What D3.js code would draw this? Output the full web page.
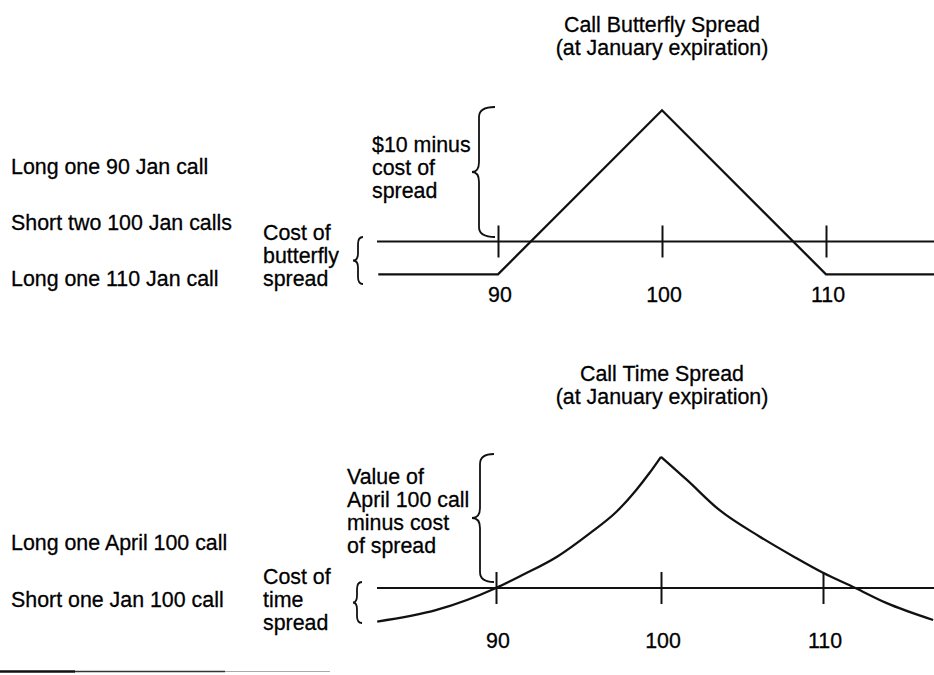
<!DOCTYPE html>
<html>
<head>
<meta charset="utf-8">
<script src="https://cdn.jsdelivr.net/npm/d3@7"></script>
<style>
  html, body { margin: 0; padding: 0; background: #fff; }
  svg { display: block; }
  text { font-family: "Liberation Sans", Arial, Helvetica, sans-serif; font-size: 23px; fill: #000; stroke: #000; stroke-width: 0.3px; }
</style>
</head>
<body>
<div id="chart"></div>
<script>
// ---------- DATA ----------
const strikeTicks = [90, 100, 110];
const strikeLabels = ["90", "100", "110"];

// Call butterfly spread: profit/loss at January expiration
const butterflyPrices = [82.7, 90, 100, 110, 116.7];
const butterflyPL     = [-2, -2, 8, -2, -2];

// Call time spread: profit/loss at January expiration
const timePrices = [82.8, 86.4, 90, 91.6, 93.7, 95.7, 97.3, 98.5, 99.3, 100,
                    101.6, 103.6, 106.1, 108.2, 110, 112.0, 113.9, 116.8];
const timePL     = [-2.05, -1.34, 0, 0.79, 1.91, 3.35, 4.65, 5.98, 7.01, 8.0,
                    6.59, 4.76, 3.13, 1.91, 0.93, 0, -0.91, -1.95];

const butterflyTitle = ["Call Butterfly Spread", "(at January expiration)"];
const timeTitle      = ["Call Time Spread", "(at January expiration)"];
const butterflyLegs  = ["Long one 90 Jan call", "Short two 100 Jan calls", "Long one 110 Jan call"];
const timeLegs       = ["Long one April 100 call", "Short one Jan 100 call"];
const butterflyCostNote = ["Cost of", "butterfly", "spread"];
const butterflyMaxNote  = ["$10 minus", "cost of", "spread"];
const timeCostNote      = ["Cost of", "time", "spread"];
const timeMaxNote       = ["Value of", "April 100 call", "minus cost", "of spread"];

// ---------- DRAW ----------
const W = 934, H = 675;
const svg = d3.select("#chart").append("svg").attr("width", W).attr("height", H);
svg.append("rect").attr("width", W).attr("height", H).attr("fill", "#fff");

const SX = 0.93;      // slight horizontal condensation of the printed face
const LH = 23;        // line height

function label(x, y, str, anchor) {
  svg.append("text")
    .attr("transform", `translate(${x},${y}) scale(${SX},1)`)
    .attr("text-anchor", anchor || "start")
    .text(str);
}
function block(x, y, lines, anchor) {
  lines.forEach((s, i) => label(x, y + i * LH, s, anchor));
}
function brace(xTip, xBar, xPoint, yTop, yBot, r) {
  const yMid = (yTop + yBot) / 2;
  const p = d3.path();
  p.moveTo(xTip, yTop);
  p.quadraticCurveTo(xBar, yTop, xBar, yTop + r);
  p.lineTo(xBar, yMid - r);
  p.quadraticCurveTo(xBar, yMid, xPoint, yMid);
  p.quadraticCurveTo(xBar, yMid, xBar, yMid + r);
  p.lineTo(xBar, yBot - r);
  p.quadraticCurveTo(xBar, yBot, xTip, yBot);
  svg.append("path").attr("d", p.toString())
    .attr("fill", "none").attr("stroke", "#111").attr("stroke-width", 1.8);
}

function panel(cfg) {
  const x = d3.scaleLinear().domain([90, 100, 110]).range(cfg.xRange);
  const y = d3.scaleLinear().domain([0, 8]).range([cfg.y0, cfg.y0 - 8 * 16.4]);
  const x0 = 377, x1 = W;

  // zero (break-even) line
  svg.append("line")
    .attr("x1", x0).attr("x2", x1).attr("y1", y(0)).attr("y2", y(0))
    .attr("stroke", "#111").attr("stroke-width", 2);

  // axis ticks via d3.axis
  const axis = d3.axisBottom(x).tickValues(strikeTicks)
    .tickSize(0).tickFormat((d, i) => strikeLabels[i]);
  const g = svg.append("g").attr("transform", `translate(0,${y(0)})`).call(axis);
  g.select(".domain").remove();
  g.selectAll(".tick text").remove();
  g.selectAll(".tick").append("line")
    .attr("y1", -16).attr("y2", 16)
    .attr("stroke", "#111").attr("stroke-width", 2);
  strikeTicks.forEach((t, i) => label(x(t) + 2, y(0) + 60, strikeLabels[i], "middle"));

  // payoff line
  const pts = cfg.prices.map((p, i) => [x(p), y(cfg.values[i])]);
  if (cfg.smooth) {
    const k = cfg.values.indexOf(d3.max(cfg.values));
    const line = d3.line().curve(d3.curveMonotoneX);
    [pts.slice(0, k + 1), pts.slice(k)].forEach(seg =>
      svg.append("path").attr("d", line(seg))
        .attr("fill", "none").attr("stroke", "#111").attr("stroke-width", 2.3));
  } else {
    svg.append("path").attr("d", d3.line()(pts))
      .attr("fill", "none").attr("stroke", "#111").attr("stroke-width", 2.3)
      .attr("stroke-linejoin", "miter");
  }

  // titles
  block(662, cfg.titleY, cfg.title, "middle");
}

// Top panel: butterfly
panel({ xRange: [498, 662, 826], y0: 241.5, prices: butterflyPrices, values: butterflyPL,
        smooth: false, title: butterflyTitle, titleY: 32 });
label(11, 174, butterflyLegs[0]);
label(11, 230, butterflyLegs[1]);
label(11, 286, butterflyLegs[2]);
block(263, 239.5, butterflyCostNote);
block(372, 152, butterflyMaxNote);
brace(495, 479, 472, 107, 237, 10);
brace(363, 358, 353, 237, 284, 7);

// Bottom panel: time spread
panel({ xRange: [496, 661, 823], y0: 588, prices: timePrices, values: timePL,
        smooth: true, title: timeTitle, titleY: 381 });
label(11, 550, timeLegs[0]);
label(11, 607, timeLegs[1]);
block(263, 584, timeCostNote);
block(347, 484, timeMaxNote);
brace(494, 480, 472, 454, 582, 10);
brace(362, 357, 353, 582, 623, 7);

// bottom rule (page edge)
svg.append("line").attr("x1", 0).attr("x2", 75).attr("y1", 671.5).attr("y2", 671.5)
  .attr("stroke", "#111").attr("stroke-width", 2.5);
svg.append("line").attr("x1", 75).attr("x2", 225).attr("y1", 671.5).attr("y2", 671.5)
  .attr("stroke", "#333").attr("stroke-width", 1.6);
svg.append("line").attr("x1", 225).attr("x2", 330).attr("y1", 671.5).attr("y2", 671.5)
  .attr("stroke", "#aaa").attr("stroke-width", 1.2);
</script>
</body>
</html>
